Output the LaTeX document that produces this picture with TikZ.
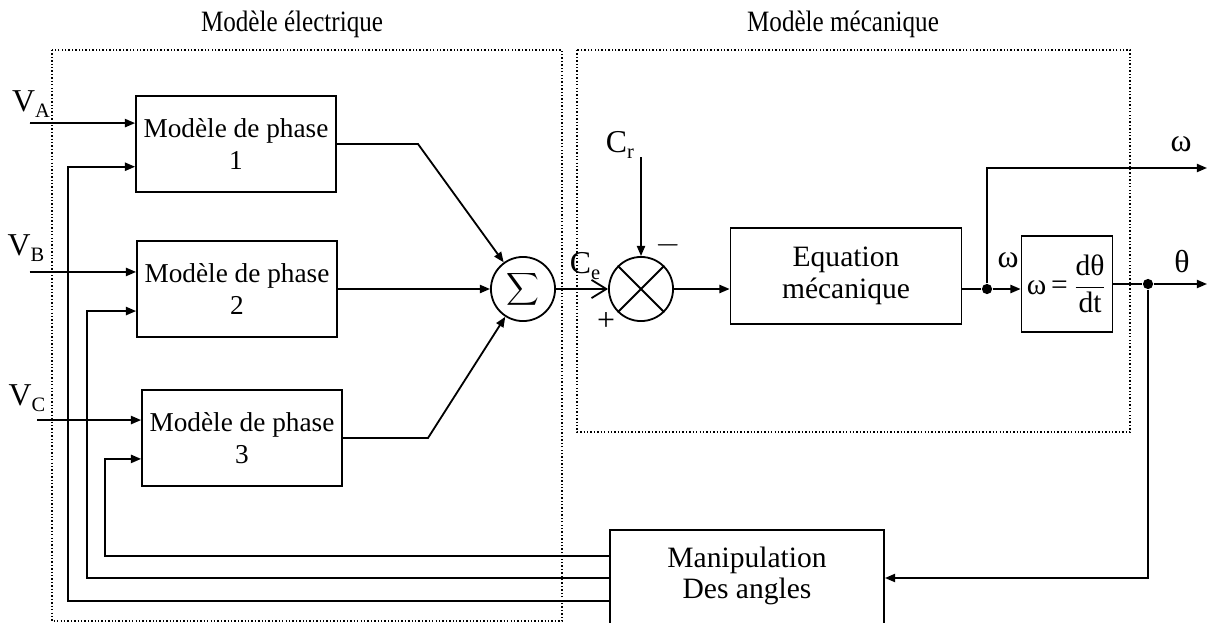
\documentclass[tikz,border=0pt]{standalone}
\usepackage{amsmath}
\usepackage{fontspec}
\setmainfont{Liberation Serif}
\usetikzlibrary{arrows.meta}

\begin{document}
\begin{tikzpicture}[x=0.44pt,y=-0.44pt]
\tikzstyle{every node}=[font=\fontsize{12}{13.8}\selectfont];
\tikzstyle{bloc}=[draw,line width=0.8pt,align=center,minimum height=42pt];
\tikzstyle{phase}=[bloc,minimum width=87pt];
\tikzstyle{rond}=[draw,line width=0.8pt,circle,minimum size=28.2pt,inner sep=0pt];
\tikzstyle{fl}=[line width=0.8pt,-{Triangle[length=4.5pt,width=3.6pt]}];
\tikzstyle{ligne}=[line width=0.8pt];
\tikzstyle{cadre}=[line width=0.6pt,dash pattern=on 0.6pt off 0.9pt];
\tikzstyle{grand}=[font=\fontsize{13}{13.8}\selectfont];
\tikzstyle{etiq}=[font=\fontsize{14}{16}\selectfont];
\tikzstyle{titre}=[font=\fontsize{13}{15}\selectfont,xscale=0.85];
\tikzstyle{point}=[circle,fill,inner sep=0pt,minimum size=4.5pt];
\newcommand{\indice}[1]{\raisebox{-2.8pt}{\fontsize{9}{10}\selectfont #1}}
\useasboundingbox (0,0) rectangle (1213,622);
\draw[cadre] (52,50) rectangle (562,621);
\draw[cadre] (577,50) rectangle (1130,432);
\node[titre] (titre1) at (292,24) {Modèle électrique};
\node[titre] (titre2) at (843,24) {Modèle mécanique};
\node[phase] (ph1) at (236,144) {Modèle de phase\\1};
\node[phase] (ph2) at (237,289) {Modèle de phase\\2};
\node[phase] (ph3) at (242,438) {Modèle de phase\\3};
\node[rond] (sum) at (523,289) {\fontsize{10}{12}\selectfont$\displaystyle\sum$};
\node[rond] (mult) at (641,289) {};
\node[bloc,grand,minimum width=101.6pt] (eq) at (846,276) {Equation\\mécanique};
\node[bloc,grand,minimum width=40pt,inner sep=1pt] (om) at (1067,284) {ω\,=\,$\dfrac{\text{dθ}}{\text{dt}}$};
\node[bloc,grand,anchor=north,minimum width=120.6pt,inner ysep=7.5pt] (manip) at (747,529) {Manipulation\\Des angles\\ \strut};
\node[point] (j1) at (987,289) {};
\node[point] (j2) at (1148,284) {};
\node[etiq] (lva) at (31,104) {V\indice{A}};
\node[etiq] (lvb) at (26,248) {V\indice{B}};
\node[etiq] (lvc) at (27,398) {V\indice{C}};
\node[etiq] (lcr) at (620,145) {C\indice{r}};
\node[etiq] (lce) at (585,266) {C\indice{e}};
\node[etiq] (moins) at (668,245) {$-$};
\node[etiq] (plus) at (606,322) {+};
\node[etiq] (lw1) at (1181,144) {ω};
\node[etiq] (lth) at (1182,262) {θ};
\node[etiq] (lw2) at (1008,260) {ω};
\coordinate (va) at (30,123);
\coordinate (vb) at (30,272);
\coordinate (vc) at (37,420);
\coordinate (a1) at (68,601);
\coordinate (a2) at (87,578);
\coordinate (a3) at (105,556);
\coordinate (k1) at (418,144);
\coordinate (k3) at (428,438);
\coordinate (cr) at (641,157);
\coordinate (wout) at (1207,168);
\coordinate (thout) at (1207,284);
\draw[fl] (va) -- ([yshift=9.2pt]ph1.west);
\draw[fl] (vb) -- ([yshift=7.5pt]ph2.west);
\draw[fl] (vc) -- ([yshift=7.9pt]ph3.west);
\draw[fl] (manip.west |- a1) -- (a1) |- ([yshift=-10pt]ph1.west);
\draw[fl] (manip.west |- a2) -- (a2) |- ([yshift=-9.7pt]ph2.west);
\draw[fl] (manip.west |- a3) -- (a3) |- ([yshift=-9.2pt]ph3.west);
\draw[fl] (ph1.east) -- (k1) -- (sum);
\draw[fl] (ph2) -- (sum);
\draw[fl] (ph3.east) -- (k3) -- (sum);
\draw[ligne] (mult.45) -- (mult.225) (mult.135) -- (mult.-45);
\draw[ligne,-{Straight Barb[length=6.5pt,width=8pt]}] (sum) -- (mult);
\draw[fl] (cr) -- (mult);
\draw[fl] (mult) -- (mult -| eq.west);
\draw[ligne] (mult -| eq.east) -- (j1);
\draw[fl] (j1) -- (j1 -| om.west);
\draw[fl] (j1) |- (wout);
\draw[ligne] (om.east) -- (j2);
\draw[fl] (j2) -- (thout);
\draw[fl] (j2) |- (manip.east |- a2);
\end{tikzpicture}
\end{document}
